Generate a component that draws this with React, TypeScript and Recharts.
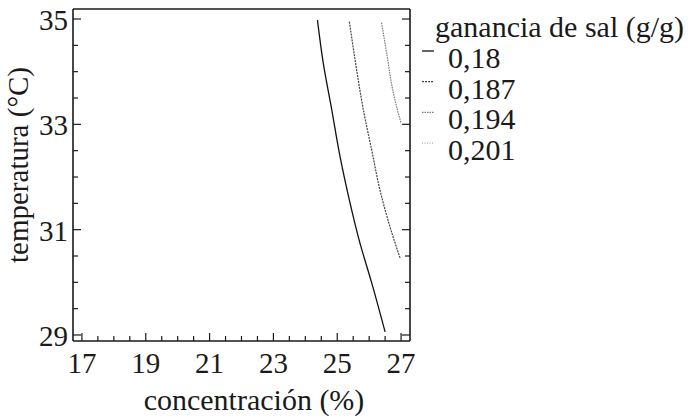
import { ComposedChart, Line, XAxis, YAxis, Legend, Label } from 'recharts'

// contour lines: concentración (%) vs temperatura (°C)
const serie018 = [
  { x: 24.38, y: 34.98 },
  { x: 24.56, y: 34.17 },
  { x: 24.83, y: 33.27 },
  { x: 25.09, y: 32.38 },
  { x: 25.4, y: 31.51 },
  { x: 25.71, y: 30.75 },
  { x: 26.08, y: 29.99 },
  { x: 26.5, y: 29.06 },
]
const serie0187 = [
  { x: 25.38, y: 34.95 },
  { x: 25.56, y: 34.22 },
  { x: 25.82, y: 33.27 },
  { x: 26.08, y: 32.51 },
  { x: 26.34, y: 31.75 },
  { x: 26.65, y: 31.06 },
  { x: 26.97, y: 30.46 },
]
const serie0194 = [
  { x: 26.39, y: 34.93 },
  { x: 26.55, y: 34.35 },
  { x: 26.76, y: 33.59 },
  { x: 27.0, y: 33.02 },
]
const serie0201: { x: number; y: number }[] = []

const niveles = ['0,18', '0,187', '0,194', '0,201']
const estilos = [
  { color: '#111', dash: undefined as string | undefined, width: 1.3 },
  { color: '#444', dash: '2 1', width: 1.2 },
  { color: '#777', dash: '1.5 1', width: 1.2 },
  { color: '#aaa', dash: '1 1.5', width: 1.2 },
]
const series = [serie018, serie0187, serie0194, serie0201]

const xMajor = [17, 19, 21, 23, 25, 27]
const xTicks = [17, 17.5, 18, 18.5, 19, 19.5, 20, 20.5, 21, 21.5, 22, 22.5, 23, 23.5, 24, 24.5, 25, 25.5, 26, 26.5, 27]
const yMajor = [29, 31, 33, 35]
const yTicks = [29, 29.5, 30, 30.5, 31, 31.5, 32, 32.5, 33, 33.5, 34, 34.5, 35]

const FONT = "'Liberation Serif', 'DejaVu Serif', 'Times New Roman', serif"
const INK = '#1a1a1a'
const txt = { fontFamily: FONT }

const BottomTick = (props: any) => {
  const { x, y, payload } = props
  const major = xMajor.includes(payload.value)
  return (
    <g>
      <line x1={x} y1={y} x2={x} y2={y - (major ? 8 : 5)} stroke={INK} strokeWidth={1.2} />
      {major && (
        <text x={x} y={y + 32} textAnchor="middle" style={txt} fontSize={29} fill={INK}>
          {payload.value}
        </text>
      )}
    </g>
  )
}

const TopTick = (props: any) => {
  const { x, y, payload } = props
  const major = xMajor.includes(payload.value)
  return <line x1={x} y1={y} x2={x} y2={y + (major ? 8 : 5)} stroke={INK} strokeWidth={1.2} />
}

const LeftTick = (props: any) => {
  const { x, y, payload } = props
  const major = yMajor.includes(payload.value)
  return (
    <g>
      <line x1={x} y1={y} x2={x + (major ? 8 : 5)} y2={y} stroke={INK} strokeWidth={1.2} />
      {major && (
        <text x={x - 5} y={y + 11} textAnchor="end" style={txt} fontSize={29} fill={INK}>
          {payload.value}
        </text>
      )}
    </g>
  )
}

const RightTick = (props: any) => {
  const { x, y, payload } = props
  const major = yMajor.includes(payload.value)
  return <line x1={x} y1={y} x2={x - (major ? 8 : 5)} y2={y} stroke={INK} strokeWidth={1.2} />
}

const LegendBox = () => (
  <svg width={268} height={180} style={{ overflow: 'visible', display: 'block' }}>
    <text x={15} y={37} style={txt} fontSize={30} fill={INK}>
      ganancia de sal (g/g)
    </text>
    {niveles.map((n, i) => {
      const base = 68 + i * 30.7
      const s = estilos[i]
      return (
        <g key={n}>
          <line x1={2} x2={14} y1={base - 17} y2={base - 17} stroke={s.color} strokeWidth={s.width} strokeDasharray={s.dash} />
          <text x={28} y={base} style={txt} fontSize={30} fill={INK}>
            {n}
          </text>
        </g>
      )
    })}
  </svg>
)

export default function App() {
  return (
    <div style={{ position: 'absolute', left: 0, top: 0, background: '#fff', fontFamily: FONT }}>
      <ComposedChart width={688} height={418} margin={{ top: 8, right: 277, bottom: 76, left: 72 }}>
        <XAxis
          type="number"
          dataKey="x"
          domain={[16.72, 27.28]}
          ticks={xTicks}
          interval={0}
          allowDataOverflow
          height={1}
          tickSize={0}
          tickMargin={0}
          tickLine={false}
          tick={<BottomTick />}
          axisLine={{ stroke: INK, strokeWidth: 1.6 }}
        >
          <Label
            content={() => (
              <text x={254} y={410} textAnchor="middle" style={txt} fontSize={30} fill={INK}>
                concentración (%)
              </text>
            )}
          />
        </XAxis>
        <XAxis
          xAxisId="top"
          orientation="top"
          type="number"
          domain={[16.72, 27.28]}
          ticks={xTicks}
          interval={0}
          allowDataOverflow
          height={1}
          tickSize={0}
          tickMargin={0}
          tickLine={false}
          tick={<TopTick />}
          axisLine={{ stroke: INK, strokeWidth: 1.6 }}
        />
        <YAxis
          type="number"
          dataKey="y"
          domain={[28.886, 35.19]}
          ticks={yTicks}
          interval={0}
          allowDataOverflow
          width={1}
          tickSize={0}
          tickMargin={0}
          tickLine={false}
          tick={<LeftTick />}
          axisLine={{ stroke: INK, strokeWidth: 1.6 }}
        >
          <Label
            content={() => (
              <text
                x={28}
                y={165}
                transform="rotate(-90, 28, 165)"
                textAnchor="middle"
                style={txt}
                fontSize={29}
                fill={INK}
              >
                temperatura (°C)
              </text>
            )}
          />
        </YAxis>
        <YAxis
          yAxisId="right"
          orientation="right"
          type="number"
          domain={[28.886, 35.19]}
          ticks={yTicks}
          interval={0}
          allowDataOverflow
          width={1}
          tickSize={0}
          tickMargin={0}
          tickLine={false}
          tick={<RightTick />}
          axisLine={{ stroke: INK, strokeWidth: 1.6 }}
        />
        <Legend
          layout="horizontal"
          align="center"
          verticalAlign="middle"
          wrapperStyle={{ left: 420, top: 0, width: 268, height: 180 }}
          content={() => <LegendBox />}
        />
        {series.map((d, i) => (
          <Line
            key={niveles[i]}
            data={d}
            dataKey="y"
            name={niveles[i]}
            type="monotoneY"
            stroke={estilos[i].color}
            strokeWidth={estilos[i].width}
            strokeDasharray={estilos[i].dash}
            dot={false}
            activeDot={false}
            isAnimationActive={false}
          />
        ))}
      </ComposedChart>
    </div>
  )
}
